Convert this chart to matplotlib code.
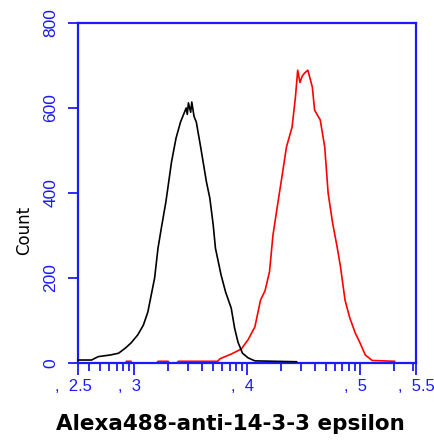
import numpy as np
import matplotlib
matplotlib.use('Agg')
import matplotlib.pyplot as plt
from matplotlib.ticker import LogLocator, NullFormatter
from matplotlib.transforms import ScaledTranslation

# Histogram data (x in log10 decades, y in events)
black_log = [2.50, 2.62, 2.68, 2.79, 2.86, 2.92, 2.97, 3.03, 3.08, 3.12,
             3.15, 3.18, 3.21, 3.24, 3.28, 3.33, 3.37, 3.41, 3.46, 3.47,
             3.48, 3.50, 3.51, 3.53, 3.55, 3.59, 3.64, 3.67, 3.70, 3.72,
             3.77, 3.81, 3.86, 3.89, 3.92, 3.96, 4.01, 4.07, 4.25, 4.44]
black_count = [7, 7, 15, 19, 23, 35, 47, 66, 89, 120,
               160, 200, 270, 318, 379, 473, 529, 567, 600, 585,
               612, 590, 614, 580, 567, 506, 426, 388, 325, 270,
               207, 167, 129, 82, 49, 23, 12, 5, 4, 3]

red_log = [2.50, 2.92, 2.93, 2.97, 2.98, 3.20, 3.21, 3.30, 3.31, 3.38,
           3.39, 3.74, 3.76, 3.86, 3.95, 4.01, 4.07, 4.12, 4.16, 4.20,
           4.23, 4.27, 4.31, 4.35, 4.40, 4.43, 4.45, 4.47, 4.49, 4.51,
           4.54, 4.58, 4.60, 4.65, 4.69, 4.72, 4.76, 4.80, 4.83, 4.87,
           4.91, 4.96, 5.00, 5.05, 5.11, 5.31]
red_count = [0, 0, 4, 4, 0, 0, 4, 4, 0, 0,
             4, 4, 10, 21, 33, 55, 85, 148, 170, 215,
             300, 370, 438, 508, 555, 626, 689, 660, 675, 682,
             689, 649, 595, 572, 508, 400, 329, 273, 226, 148,
             108, 71, 49, 19, 6, 4]

x_tick_pos = [2.5, 3, 4, 5, 5.5]
x_tick_labels = [',  2.5  ', ',  3  ', ',  4  ', ',  5  ', ',  5.5']
y_ticks = [0, 200, 400, 600, 800]

blue = '#1a1aff'

fig = plt.figure(figsize=(4.35, 4.41), dpi=100)
ax = fig.add_axes([78 / 435, 1 - 363 / 441, 338 / 435, 340 / 441])

ax.plot(10 ** np.array(red_log), red_count, color='#ff0000', lw=1.2, zorder=2)
ax.plot(10 ** np.array(black_log), black_count, color='black', lw=1.2,
        zorder=3, clip_on=False)

ax.set_xscale('log')
ax.set_xlim(10 ** 2.5, 10 ** 5.5)
ax.set_ylim(0, 800)

ax.set_xticks([10 ** p for p in x_tick_pos])
ax.set_xticklabels(x_tick_labels, fontsize=12, family='Liberation Sans', color=blue)
ax.xaxis.set_minor_locator(LogLocator(base=10, subs=np.arange(2, 10)))
ax.xaxis.set_minor_formatter(NullFormatter())

# last label sits at the right edge, nudge it inwards a little
last = ax.get_xticklabels()[-1]
last.set_transform(last.get_transform() + ScaledTranslation(-6.5 / 100, 0, fig.dpi_scale_trans))

ax.set_yticks(y_ticks)
ax.set_yticklabels([str(v) for v in y_ticks], fontsize=12.5,
                   family='Liberation Sans', color=blue, rotation=90, va='center')

for side in ['left', 'right', 'top', 'bottom']:
    ax.spines[side].set_color(blue)
    ax.spines[side].set_linewidth(1.6)

ax.tick_params(axis='x', which='major', direction='out', length=8.5, width=1.3,
               color=blue, pad=3)
ax.tick_params(axis='x', which='minor', direction='out', length=6, width=1.3,
               color=blue)
ax.tick_params(axis='y', direction='out', length=7.2, width=1.3, color=blue, pad=7)

fig.text(24 / 435, 1 - 230 / 441, 'Count', rotation=90, ha='center', va='center',
         fontsize=12, family='DejaVu Sans', color='black')
fig.text(230 / 435, 1 - 424 / 441, 'Alexa488-anti-14-3-3 epsilon', ha='center',
         va='center', fontsize=15.5, fontweight='bold', family='DejaVu Sans',
         color='black')

fig.savefig('out.png', dpi=100)
